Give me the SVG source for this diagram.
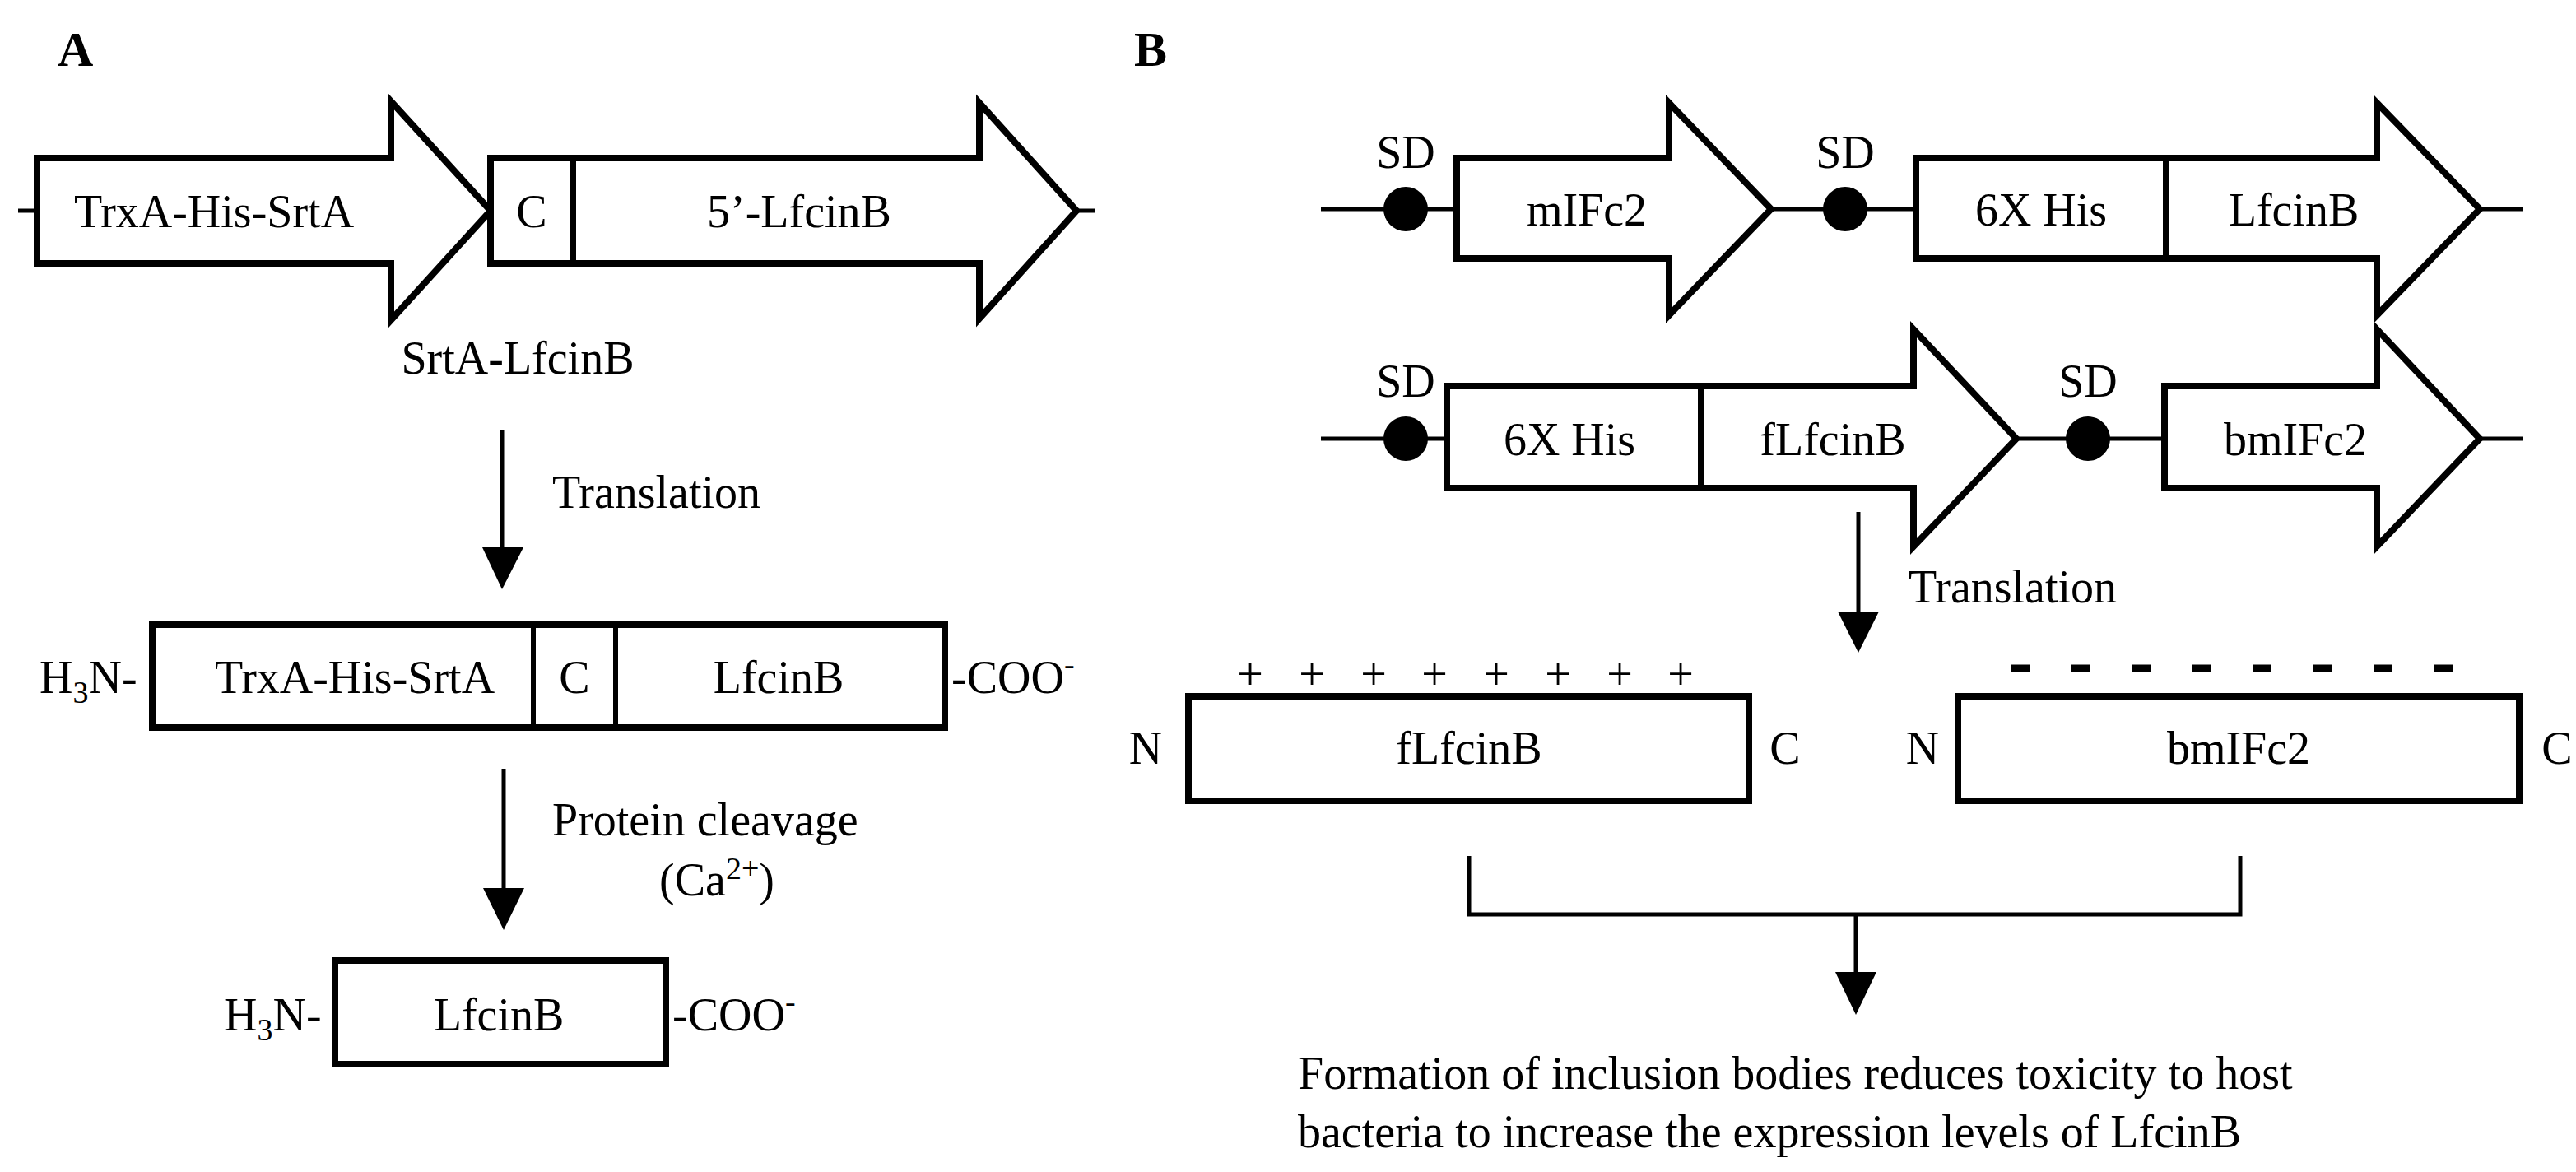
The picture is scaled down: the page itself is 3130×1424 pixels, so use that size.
<svg xmlns="http://www.w3.org/2000/svg" width="3130" height="1424" viewBox="0 0 3130 1424">
<style>
text{font-family:"Liberation Serif","Times New Roman",serif;font-size:56px;fill:#000}
.c{text-anchor:middle}
.lbl{font-weight:bold;font-size:60px}
.sh{fill:#fff;stroke:#000;stroke-width:8;stroke-linejoin:miter}
.ln{stroke:#000;stroke-width:5;fill:none}
.sub{font-size:38px}
</style>
<defs>
<marker id="ah" markerWidth="10" markerHeight="10" refX="5" refY="10" orient="auto" markerUnits="userSpaceOnUse" viewBox="0 0 10 10"><path d="M0,0L10,0L5,10z" fill="#000"/></marker>
</defs>
<rect width="3130" height="1424" fill="#fff"/>
<text class="lbl" x="70" y="80">A</text>
<text class="lbl" x="1378" y="80">B</text>

<g id="connectors">
<line class="ln" x1="22" y1="256" x2="45" y2="256"/>
<line class="ln" x1="1308" y1="256" x2="1330" y2="256"/>
<line class="ln" x1="610" y1="522" x2="610" y2="670"/>
<polygon points="586,665 636,665 610,716"/>
<line class="ln" x1="612" y1="934" x2="612" y2="1085"/>
<polygon points="587,1079 637,1079 612,1130"/>
<line class="ln" x1="1605" y1="254" x2="3065" y2="254"/>
<line class="ln" x1="1605" y1="533" x2="3065" y2="533"/>
<line class="ln" x1="2258" y1="622" x2="2258" y2="750"/>
<polygon points="2233,743 2283,743 2258,793"/>
<polyline class="ln" points="1785,1040 1785,1111 2722,1111 2722,1040"/>
<line class="ln" x1="2255" y1="1111" x2="2255" y2="1190"/>
<polygon points="2230,1181 2280,1181 2255,1233"/>
</g>

<g id="gene-trxa">
<polygon class="sh" points="45,192 475,192 475,123 596,256 475,389 475,320 45,320"/>
<text class="c" x="260" y="276">TrxA-His-SrtA</text>
</g>
<g id="gene-c">
<rect class="sh" x="596" y="192" width="100" height="128"/>
<text class="c" x="646" y="276">C</text>
</g>
<g id="gene-lfcinb">
<polygon class="sh" points="696,192 1190,192 1190,125 1308,256 1190,387 1190,320 696,320"/>
<text class="c" x="971" y="276">5’-LfcinB</text>
</g>
<text class="c" x="629" y="454">SrtA-LfcinB</text>
<text x="671" y="617">Translation</text>

<g id="protein1">
<rect class="sh" x="185" y="759" width="963" height="125"/>
<line x1="648" y1="759" x2="648" y2="884" stroke="#000" stroke-width="6"/>
<line x1="748" y1="759" x2="748" y2="884" stroke="#000" stroke-width="6"/>
<text class="c" x="431" y="842">TrxA-His-SrtA</text>
<text class="c" x="698" y="842">C</text>
<text class="c" x="946" y="842">LfcinB</text>
<text x="48" y="842">H<tspan class="sub" dy="12">3</tspan><tspan dy="-12">N-</tspan></text>
<text x="1156" y="842">-COO<tspan class="sub" dy="-22">-</tspan></text>
</g>
<text x="671" y="1015">Protein cleavage</text>
<text class="c" x="871" y="1088">(Ca<tspan class="sub" dy="-20">2+</tspan><tspan dy="20">)</tspan></text>

<g id="protein2">
<rect class="sh" x="407" y="1167" width="402" height="126"/>
<text class="c" x="606" y="1252">LfcinB</text>
<text x="272" y="1252">H<tspan class="sub" dy="12">3</tspan><tspan dy="-12">N-</tspan></text>
<text x="817" y="1252">-COO<tspan class="sub" dy="-22">-</tspan></text>
</g>

<g id="sd1"><circle cx="1708" cy="254" r="27"/><text class="c" x="1708" y="204">SD</text></g>
<g id="mifc2"><polygon class="sh" points="1770,192 2028,192 2028,125 2152,254 2028,383 2028,314 1770,314"/><text class="c" x="1928" y="274">mIFc2</text></g>
<g id="sd2"><circle cx="2242" cy="254" r="27"/><text class="c" x="2242" y="204">SD</text></g>
<g id="his1"><rect class="sh" x="2328" y="192" width="304" height="122"/><text class="c" x="2480" y="274">6X His</text></g>
<g id="lfcinb1"><polygon class="sh" points="2632,192 2888,192 2888,125 3013,254 2888,383 2888,314 2632,314"/><text class="c" x="2787" y="274">LfcinB</text></g>

<g id="sd3"><circle cx="1708" cy="533" r="27"/><text class="c" x="1708" y="482">SD</text></g>
<g id="his2"><rect class="sh" x="1758" y="469" width="309" height="124"/><text class="c" x="1907" y="553">6X His</text></g>
<g id="flfcinb"><polygon class="sh" points="2067,469 2325,469 2325,400 2450,533 2325,664 2325,593 2067,593"/><text class="c" x="2227" y="553">fLfcinB</text></g>
<g id="sd4"><circle cx="2537" cy="533" r="27"/><text class="c" x="2537" y="482">SD</text></g>
<g id="bmifc2"><polygon class="sh" points="2630,469 2888,469 2888,400 3013,533 2888,664 2888,593 2630,593"/><text class="c" x="2789" y="553">bmIFc2</text></g>

<text x="2319" y="732">Translation</text>

<g id="box-flfcinb">
<rect class="sh" x="1444" y="846" width="681" height="127"/>
<text class="c" x="1785" y="928">fLfcinB</text>
<text class="c" x="1392" y="928">N</text>
<text class="c" x="2169" y="928">C</text>
<text class="c" x="1519" y="838" font-size="44">+</text>
<text class="c" x="1594" y="838" font-size="44">+</text>
<text class="c" x="1669" y="838" font-size="44">+</text>
<text class="c" x="1743" y="838" font-size="44">+</text>
<text class="c" x="1818" y="838" font-size="44">+</text>
<text class="c" x="1893" y="838" font-size="44">+</text>
<text class="c" x="1968" y="838" font-size="44">+</text>
<text class="c" x="2042" y="838" font-size="44">+</text>
</g>
<g id="box-bmifc2">
<rect class="sh" x="2379" y="846" width="682" height="127"/>
<text class="c" x="2720" y="928">bmIFc2</text>
<text class="c" x="2336" y="928">N</text>
<text class="c" x="3107" y="928">C</text>
<path d="M2444,812h22M2517,812h22M2591,812h22M2664,812h22M2737,812h22M2811,812h22M2884,812h22M2958,812h22" stroke="#000" stroke-width="9"/>
</g>

<text x="1577" y="1323">Formation of inclusion bodies reduces toxicity to host</text>
<text x="1577" y="1394">bacteria to increase the expression levels of LfcinB</text>
</svg>
